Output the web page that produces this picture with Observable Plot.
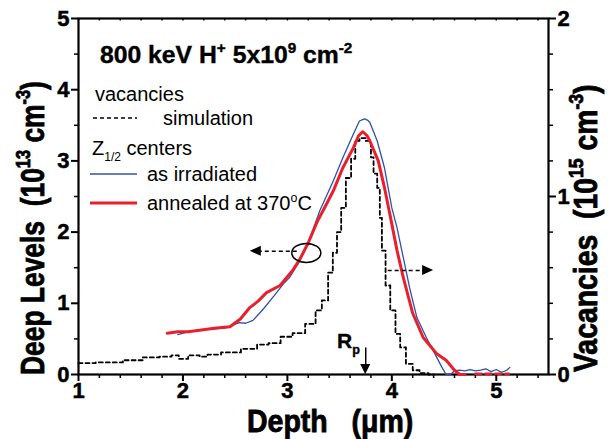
<!DOCTYPE html>
<html><head><meta charset="utf-8">
<script src="https://cdn.jsdelivr.net/npm/d3@7"></script>
<script src="https://cdn.jsdelivr.net/npm/@observablehq/plot@0.6"></script>
<style>
body{margin:0;background:#fff}
#chart svg{font-family:"Liberation Sans",Arial,Helvetica,sans-serif;overflow:visible}
</style>
</head><body><div id="chart"></div>
<script>
// ---- data ----
// simulated vacancies (10^15 cm^-3), right axis
const simDepth = [1.0,1.33,1.52,1.71,1.84,1.94,1.98,2.12,2.2,2.27,2.46,2.65,2.77,2.87,3.0,3.1,3.24,3.3,3.36,3.42,3.45,3.5,3.53,3.59,3.63,3.67,3.71,3.79,3.81,3.84,3.88,3.89,3.92,3.96,4.01,4.06,4.1,4.17,4.23,4.3,4.4];
const simVac = [0.064,0.068,0.08,0.096,0.1,0.108,0.088,0.108,0.1,0.112,0.124,0.144,0.168,0.176,0.212,0.232,0.284,0.36,0.416,0.572,0.684,0.8,0.936,1.104,1.212,1.312,1.328,1.312,1.22,1.128,1.048,0.88,0.696,0.5,0.36,0.228,0.152,0.06,0.024,0.008,0];
// Z1/2 centers, as irradiated (10^13 cm^-3), left axis
const irrDepth = [1.95,2.05,2.16,2.3,2.42,2.54,2.6,2.67,2.77,2.87,2.96,3.02,3.12,3.2,3.31,3.44,3.53,3.63,3.69,3.72,3.74,3.77,3.79,3.86,3.93,4.0,4.05,4.11,4.17,4.24,4.33,4.43,4.48,4.52,4.56,4.6,4.65,4.7,4.75,4.8,4.85,4.9,4.95,5.0,5.05,5.1,5.13];
const irrLevel = [0.56,0.6,0.63,0.64,0.66,0.73,0.72,0.76,0.92,1.1,1.27,1.36,1.6,1.85,2.3,2.72,3.04,3.37,3.56,3.58,3.59,3.57,3.54,3.28,2.9,2.34,2.06,1.64,1.22,0.8,0.52,0.24,0.1,0.0,0.0,0.05,0.06,0.05,0.07,0.05,0.06,0.08,0.04,0.07,0.03,0.06,0.1];
// Z1/2 centers, annealed at 370 C
const annDepth = [1.85,1.95,2.05,2.16,2.3,2.45,2.55,2.64,2.72,2.8,2.93,3.05,3.12,3.2,3.29,3.37,3.44,3.53,3.63,3.68,3.72,3.76,3.79,3.87,3.93,3.98,4.05,4.11,4.2,4.3,4.38,4.43,4.52,4.6,4.65,4.7];
const annLevel = [0.58,0.6,0.6,0.62,0.65,0.67,0.78,0.94,1.03,1.15,1.25,1.46,1.62,1.85,2.16,2.38,2.58,2.9,3.18,3.35,3.41,3.36,3.28,3.0,2.62,2.26,1.74,1.36,0.86,0.52,0.38,0.29,0.2,0.06,0.0,0.0];
const annTailDepth = [4.8,5.12];
const annTailLevel = [0.01,0.01];
// ticks
const xMajor = [1,2,3,4,5];
const xMinor = [1.2,1.4,1.6,1.8,2.2,2.4,2.6,2.8,3.2,3.4,3.6,3.8,4.2,4.4,4.6,4.8,5.2,5.4];
const leftMajor = [0,1,2,3,4,5];
const leftMinor = [0.5,1.5,2.5,3.5,4.5];
const rightMajor = [0,1,2];
const rightMinor = [0.2,0.4,0.6,0.8,1.2,1.4,1.6,1.8];
const RATIO = 2.5; // 2 (10^15) on right = 5 (10^13) on left

const sim = simDepth.map((x,i)=>({x, y: simVac[i]*RATIO}));
const irr = irrDepth.map((x,i)=>({x, y: irrLevel[i]}));
const ann = annDepth.map((x,i)=>({x, y: annLevel[i]}));
const annTail = annTailDepth.map((x,i)=>({x, y: annTailLevel[i]}));

const TICK_FONT = 22;
const F = {fontSize:TICK_FONT, fontWeight:"bold"};
const plot = Plot.plot({
  width:610, height:439,
  marginLeft:78, marginRight:62, marginTop:18, marginBottom:65,
  x:{domain:[1,5.5], label:null},
  y:{domain:[0,5], label:null},
  style:{background:"white", color:"black"},
  marks:[
    Plot.axisX({ticks:xMajor, tickFormat:d=>String(d), tickSize:7, tickPadding:1, strokeWidth:2, label:null, ...F}),
    Plot.axisX({ticks:xMinor, tickSize:4, strokeWidth:1.5, tickFormat:()=>"", label:null}),
    Plot.ruleX(xMinor.concat(xMajor), {y1:5, y2:4.965, stroke:"black", strokeWidth:1.5}),
    Plot.axisY({ticks:leftMajor, tickFormat:d=>String(d), tickSize:7, tickPadding:2, strokeWidth:2, label:null, ...F}),
    Plot.axisY({ticks:leftMinor, tickSize:4, strokeWidth:1.5, tickFormat:()=>"", label:null}),
    Plot.axisY({anchor:"right", ticks:rightMajor.map(d=>d*RATIO), tickFormat:d=>String(Math.round(d/RATIO)), tickSize:7, tickPadding:2, strokeWidth:2, label:null, ...F}),
    Plot.axisY({anchor:"right", ticks:rightMinor.map(d=>d*RATIO), tickFormat:()=>"", tickSize:4, strokeWidth:1.5, label:null}),
    Plot.frame({stroke:"black", strokeWidth:2.2}),
    Plot.line(sim, {x:"x", y:"y", curve:"step", stroke:"black", strokeWidth:1.8, strokeDasharray:"4,3"}),
    Plot.line(irr, {x:"x", y:"y", stroke:"#2f52a8", strokeWidth:1.3}),
    Plot.line(ann, {x:"x", y:"y", stroke:"#e8202e", strokeWidth:3}),
    Plot.line(annTail, {x:"x", y:"y", stroke:"#e8202e", strokeWidth:2.5, strokeDasharray:"6,4"}),
    // annotation arrows (dashed shafts)
    Plot.link([{x1:3.09, x2:2.72, y:1.73}], {x1:"x1", x2:"x2", y1:"y", y2:"y", stroke:"black", strokeWidth:1.6, strokeDasharray:"4,3"}),
    Plot.link([{x1:3.96, x2:4.3, y:1.46}], {x1:"x1", x2:"x2", y1:"y", y2:"y", stroke:"black", strokeWidth:1.6, strokeDasharray:"4,3"}),
    Plot.link([{x:3.75, y1:0.38, y2:0.1}], {x1:"x", x2:"x", y1:"y1", y2:"y2", stroke:"black", strokeWidth:1.5})
  ]
});
document.getElementById("chart").appendChild(plot);

const sx = plot.scale("x"), sy = plot.scale("y");
const X = v=>sx.apply(v), Y = v=>sy.apply(v);
const svg = d3.select(plot);
// make tick labels large and heavy, as in the reference
svg.selectAll('g[aria-label$="tick label"] text')
  .style("font-size", TICK_FONT + "px").style("font-weight", "bold")
  .attr("stroke", "black").attr("stroke-width", 0.5);
const g = svg.append("g");

// arrow heads (filled triangles)
function head(tipX, tipY, dir, len=11, half=5){
  let pts;
  if(dir==="left") pts=[[tipX,tipY],[tipX+len,tipY-half],[tipX+len,tipY+half]];
  if(dir==="right") pts=[[tipX,tipY],[tipX-len,tipY-half],[tipX-len,tipY+half]];
  if(dir==="down") pts=[[tipX,tipY],[tipX-half,tipY-len],[tipX+half,tipY-len]];
  g.append("polygon").attr("points", pts.map(p=>p.join(",")).join(" ")).attr("fill","black");
}
head(X(2.645), Y(1.73), "left");
head(X(4.4), Y(1.46), "right");
head(X(3.75), Y(0), "down", 10, 5);
// ellipse around the curves
g.append("ellipse").attr("cx", X(3.186)).attr("cy", Y(1.70)).attr("rx",14.5).attr("ry",9.5)
  .attr("fill","none").attr("stroke","black").attr("stroke-width",1.5);

// rich text helper
function rich(parts, o){
  const t = g.append("text")
    .attr("transform", `translate(${o.x},${o.y}) rotate(${o.rotate||0}) scale(${o.sx||1},1)`)
    .attr("font-size", o.size).attr("font-weight", o.weight||"normal")
    .attr("text-anchor", o.anchor||"start").attr("fill","black")
    .style("white-space","pre");
  if (o.heavy) t.attr("stroke","black").attr("stroke-width",o.heavy);
  let shift = 0;
  for (const [s,k] of parts){
    const target = k==="sup" ? -o.size*0.42 : k==="sub" ? o.size*0.28 : 0;
    const ts = t.append("tspan").attr("dy", target-shift).text(s);
    if (k) ts.attr("font-size", o.size*(k==="sup"?0.62:0.6));
    shift = target;
  }
  return t;
}

// axis titles
rich([["Deep Levels  (10"],["13","sup"],[" cm"],["-3","sup"],[")"]], {x:44, y:375, rotate:-90, size:33, weight:"bold", sx:0.8, heavy:0.8});
rich([["Vacancies  (10"],["15","sup"],[" cm"],["-3","sup"],[")"]], {x:597, y:372, rotate:-90, size:33, weight:"bold", sx:0.86, heavy:0.8});
rich([["Depth   ("],["\u03BCm)"]], {x:247, y:432, size:31, weight:"bold", sx:0.92, heavy:0.8});

// title
rich([["800 keV H"],["+","sup"],[" 5x10"],["9","sup"],[" cm"],["-2","sup"]], {x:100, y:63, size:24, weight:"bold", sx:1.03, heavy:0.4});

// legend
rich([["vacancies"]], {x:95, y:101, size:20});
g.append("line").attr("x1",93).attr("x2",137).attr("y1",118).attr("y2",118).attr("stroke","black").attr("stroke-width",1.6).attr("stroke-dasharray","4,3");
rich([["simulation"]], {x:163, y:125, size:20});
rich([["Z"],["1/2","sub"],[" centers"]], {x:92, y:155, size:20});
g.append("line").attr("x1",90).attr("x2",137).attr("y1",174).attr("y2",174).attr("stroke","#2f52a8").attr("stroke-width",1.5);
rich([["as irradiated"]], {x:147, y:181, size:20});
g.append("line").attr("x1",90).attr("x2",137).attr("y1",203).attr("y2",203).attr("stroke","#e8202e").attr("stroke-width",3);
rich([["annealed at 370"],["o","sup"],["C"]], {x:147, y:210, size:20});

// Rp label
rich([["R"],["p","sub"]], {x:X(3.48), y:Y(0.365), size:21, weight:"bold", heavy:0.4});
</script>
</body></html>
